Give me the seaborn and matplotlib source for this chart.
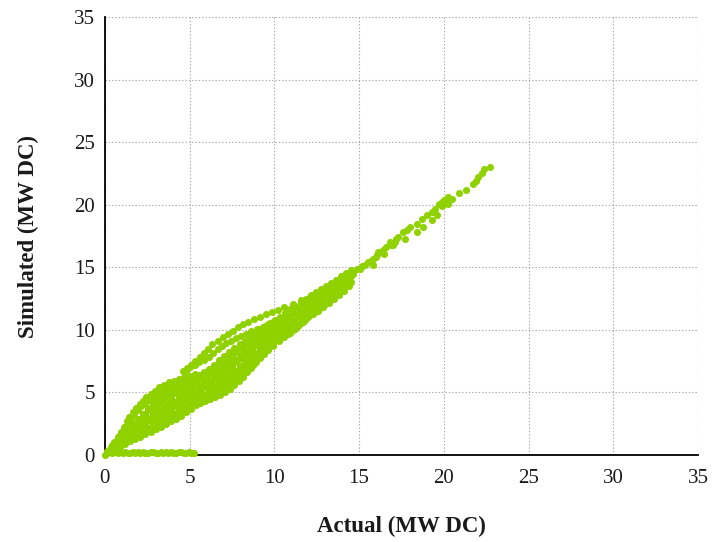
import matplotlib
matplotlib.use("Agg")
import matplotlib.pyplot as plt
import seaborn as sns
import pandas as pd

# ---------------- data ----------------
# core of the scatter band: two staggered x grids, strands across the band
core_xa = [0.3, 0.6, 0.9, 1.2, 1.5, 1.8, 2.1, 2.4,
           2.7, 3.0, 3.3, 3.6, 3.9, 4.2, 4.5, 4.8,
           5.1, 5.4, 5.7, 6.0, 6.3, 6.6, 6.9, 7.2,
           7.5, 7.8, 8.1, 8.4, 8.7, 9.0, 9.3, 9.6,
           9.9, 10.2, 10.5, 10.8, 11.1, 11.4, 11.7, 12.0,
           12.3, 12.6, 12.9, 13.2, 13.5, 13.8, 14.1, 14.4]
core_xb = [0.45, 0.75, 1.05, 1.35, 1.65, 1.95, 2.25, 2.55,
           2.85, 3.15, 3.45, 3.75, 4.05, 4.35, 4.65, 4.95,
           5.25, 5.55, 5.85, 6.15, 6.45, 6.75, 7.05, 7.35,
           7.65, 7.95, 8.25, 8.55, 8.85, 9.15, 9.45, 9.75,
           10.05, 10.35, 10.65, 10.95, 11.25, 11.55, 11.85, 12.15,
           12.45, 12.75, 13.05, 13.35, 13.65, 13.95, 14.25, 14.55]

core_y0 = [0.24, 0.47, 0.68, 0.89, 1.1, 1.28, 1.46, 1.64,
           1.84, 2.05, 2.26, 2.47, 2.68, 2.91, 3.15, 3.42,
           3.69, 3.96, 4.23, 4.5, 4.8, 5.12, 5.48, 5.84,
           6.2, 6.56, 6.92, 7.28, 7.64, 8.0, 8.3, 8.6,
           8.9, 9.16, 9.4, 9.7, 10.01, 10.34, 10.67, 11.0,
           11.27, 11.54, 11.81, 12.12, 12.45, 12.78, 13.12, 13.48]
core_y2 = [0.34, 0.66, 0.95, 1.26, 1.58, 1.86, 2.14, 2.44,
           2.72, 2.99, 3.24, 3.47, 3.7, 3.92, 4.15, 4.4,
           4.64, 4.89, 5.13, 5.38, 5.7, 6.04, 6.4, 6.74,
           7.08, 7.42, 7.75, 8.09, 8.42, 8.76, 9.04, 9.31,
           9.59, 9.86, 10.12, 10.42, 10.72, 11.03, 11.33, 11.64,
           11.9, 12.16, 12.41, 12.7, 13.01, 13.32, 13.62, 13.94]
core_y4 = [0.43, 0.85, 1.22, 1.63, 2.06, 2.43, 2.82, 3.24,
           3.6, 3.93, 4.21, 4.48, 4.71, 4.93, 5.15, 5.37,
           5.59, 5.82, 6.04, 6.26, 6.61, 6.96, 7.32, 7.65,
           7.96, 8.27, 8.58, 8.9, 9.21, 9.52, 9.77, 10.02,
           10.28, 10.55, 10.84, 11.14, 11.43, 11.72, 12.0, 12.28,
           12.53, 12.77, 13.02, 13.29, 13.57, 13.85, 14.13, 14.39]
core_y1 = [0.44, 0.71, 0.97, 1.23, 1.49, 1.72, 1.95, 2.19,
           2.43, 2.67, 2.9, 3.12, 3.34, 3.57, 3.8, 4.06,
           4.32, 4.57, 4.83, 5.09, 5.4, 5.73, 6.09, 6.44,
           6.79, 7.14, 7.49, 7.83, 8.18, 8.53, 8.82, 9.11,
           9.39, 9.66, 9.91, 10.21, 10.52, 10.83, 11.15, 11.47,
           11.73, 12.0, 12.26, 12.56, 12.88, 13.2, 13.52, 13.86]
core_y3 = [0.54, 0.9, 1.24, 1.6, 1.97, 2.29, 2.63, 2.99,
           3.31, 3.61, 3.87, 4.13, 4.35, 4.58, 4.8, 5.03,
           5.27, 5.5, 5.74, 5.97, 6.31, 6.65, 7.01, 7.35,
           7.67, 7.99, 8.32, 8.64, 8.97, 9.29, 9.55, 9.82,
           10.08, 10.35, 10.63, 10.93, 11.23, 11.52, 11.82, 12.11,
           12.36, 12.61, 12.87, 13.15, 13.44, 13.73, 14.03, 14.31]
core_y5 = [0.63, 1.09, 1.51, 1.97, 2.45, 2.87, 3.31, 3.79,
           4.19, 4.55, 4.85, 5.13, 5.37, 5.59, 5.8, 6.01,
           6.22, 6.43, 6.64, 6.85, 7.21, 7.57, 7.93, 8.25,
           8.55, 8.85, 9.15, 9.45, 9.75, 10.05, 10.29, 10.53,
           10.77, 11.05, 11.35, 11.65, 11.94, 12.21, 12.48, 12.75,
           12.99, 13.23, 13.47, 13.73, 14.0, 14.27, 14.53, 14.77]

# extra in-between strands where the band is widest
mid_x = [1.65, 1.95, 2.25, 2.55, 2.85, 3.15, 3.45, 3.75, 4.05, 4.35,
         4.65, 4.95, 5.25, 5.55, 5.85, 6.15, 6.45, 6.75, 7.05, 7.35,
         7.65, 7.95, 8.25, 8.55, 8.85, 9.15, 9.45, 9.75, 10.05]
mid_y05 = [1.37, 1.58, 1.78, 1.99, 2.21, 2.44, 2.66, 2.87, 3.09, 3.32,
           3.55, 3.82, 4.08, 4.34, 4.6, 4.87, 5.17, 5.5, 5.86, 6.21,
           6.57, 6.93, 7.28, 7.63, 7.98, 8.34, 8.64, 8.93, 9.22]
mid_y25 = [1.85, 2.15, 2.46, 2.79, 3.09, 3.38, 3.63, 3.88, 4.1, 4.33,
           4.55, 4.79, 5.03, 5.27, 5.51, 5.75, 6.08, 6.42, 6.78, 7.12,
           7.45, 7.78, 8.11, 8.44, 8.77, 9.1, 9.37, 9.64, 9.91]
mid_y45 = [2.33, 2.73, 3.14, 3.59, 3.97, 4.32, 4.61, 4.88, 5.12, 5.34,
           5.55, 5.77, 5.98, 6.2, 6.41, 6.63, 6.98, 7.34, 7.7, 8.02,
           8.33, 8.64, 8.94, 9.25, 9.55, 9.86, 10.11, 10.35, 10.6]

# outer loop above the band at low output
loop_outer_x = [0.15, 0.35, 0.55, 0.75, 0.95, 1.12, 1.28, 1.45, 1.65, 1.85, 2.05, 2.25,
                2.45, 2.7, 2.95, 3.2, 3.5, 3.8, 4.1, 4.4, 4.7, 5.0, 5.3]
loop_outer_y = [0.3, 0.65, 1.0, 1.4, 1.85, 2.25, 2.7, 3.05, 3.4, 3.75, 4.05, 4.35,
                4.6, 4.9, 5.15, 5.4, 5.6, 5.8, 5.95, 6.1, 6.2, 6.3, 6.45]
loop_inner_x = [0.25, 0.45, 0.65, 0.85, 1.03, 1.2, 1.37, 1.55, 1.75, 1.95, 2.15,
                2.35, 2.58, 2.82, 3.07, 3.35, 3.65, 3.95, 4.25, 4.55, 4.85, 5.15]
loop_inner_y = [0.4, 0.8, 1.15, 1.5, 1.85, 2.25, 2.62, 2.95, 3.3, 3.6, 3.9,
                4.15, 4.4, 4.67, 4.93, 5.15, 5.37, 5.55, 5.7, 5.8, 5.9, 6.05]

# upper dotted strands
upper_a_x = [4.6, 4.85, 5.1, 5.35, 5.6, 5.85, 6.1, 6.35, 6.65, 6.95, 7.25, 7.55,
             7.85, 8.15, 8.45, 8.8, 9.15, 9.5, 9.85, 10.2, 10.6, 11.1, 11.6, 12.1]
upper_a_y = [6.7, 6.95, 7.2, 7.5, 7.8, 8.15, 8.5, 8.85, 9.15, 9.4, 9.65, 9.9,
             10.2, 10.45, 10.65, 10.85, 11.05, 11.25, 11.45, 11.6, 11.85, 12.1, 12.4, 12.65]
upper_b_x = [4.8, 5.05, 5.3, 5.55, 5.85, 6.15, 6.4, 6.65, 6.9, 7.15, 7.45, 7.75,
             8.05, 8.35, 8.65, 9.0, 9.35, 9.65, 10.0]
upper_b_y = [6.75, 7.0, 7.2, 7.4, 7.6, 7.85, 8.15, 8.45, 8.7, 8.95, 9.15, 9.35,
             9.5, 9.7, 9.9, 10.05, 10.25, 10.45, 10.7]

# lower dotted strands
lower_c_x = [5.6, 5.9, 6.2, 6.5, 6.8, 7.1, 7.4, 7.65, 7.9, 8.15, 8.4, 8.6,
             8.8, 9.0, 9.2, 9.4, 9.6, 9.8, 10.0]
lower_c_y = [4.15, 4.3, 4.45, 4.6, 4.8, 5.05, 5.3, 5.6, 5.9, 6.25, 6.6, 6.95,
             7.3, 7.65, 8.0, 8.35, 8.7, 9.0, 9.3]
lower_d_x = [6.5, 6.8, 7.1, 7.4, 7.65, 7.9, 8.2, 8.46, 8.7, 8.9, 9.15, 9.4, 9.65,
             9.95, 10.3, 10.6, 10.9, 11.2, 11.5, 11.8, 12.1, 12.4, 12.7, 13.0,
             13.3, 13.6, 13.9]
lower_d_y = [5.05, 5.3, 5.55, 5.86, 6.1, 6.4, 6.65, 6.85, 7.1, 7.4, 7.75, 8.1, 8.4,
             8.75, 9.15, 9.45, 9.75, 10.1, 10.45, 10.8, 11.15, 11.45, 11.75, 12.05,
             12.4, 12.8, 13.15]

# high-output tail
tail_x = [14.65, 14.9, 15.05, 15.2, 15.35, 15.5, 15.75, 15.85, 15.8, 16.0, 16.05,
          16.1, 16.4, 16.5, 16.6, 16.8, 16.9, 17.0, 17.1, 17.2, 17.3, 17.6, 17.7,
          17.8, 18.0, 18.4, 18.4, 18.7, 18.8, 19.0, 19.3, 19.3, 19.5, 19.6, 19.7,
          19.9, 19.9, 20.0, 20.25, 20.25, 20.5, 20.9, 21.3, 21.7, 21.9, 22.0,
          22.25, 22.4, 22.7]
tail_y = [14.5, 14.9, 14.85, 15.1, 15.2, 15.4, 15.6, 15.2, 15.7, 15.85, 16.0,
          16.2, 16.4, 16.1, 16.6, 17.05, 16.8, 16.8, 17.0, 17.3, 17.4, 17.8, 17.3,
          18.0, 18.2, 18.5, 17.8, 18.9, 18.2, 19.2, 19.4, 18.8, 19.7, 19.2, 20.1,
          19.9, 20.25, 20.4, 20.6, 20.1, 20.5, 20.9, 21.2, 21.65, 21.9, 22.2,
          22.55, 22.85, 23.0]

# zero-output line (simulated ~0 while actual up to ~5)
flat_x = [0.0, 0.15, 0.3, 0.45, 0.6, 0.75, 0.9, 1.05, 1.2, 1.35, 1.5, 1.65,
          1.8, 1.95, 2.1, 2.25, 2.4, 2.55, 2.7, 2.85, 3.0, 3.15, 3.3, 3.45,
          3.6, 3.75, 3.9, 4.05, 4.2, 4.35, 4.5, 4.65, 4.8, 4.95, 5.1, 5.25]
flat_y = [0.0, 0.2, 0.22, 0.2, 0.21, 0.2, 0.22, 0.2, 0.21, 0.2, 0.2, 0.21,
          0.2, 0.22, 0.2, 0.21, 0.2, 0.2, 0.22, 0.21, 0.2, 0.2, 0.21, 0.2,
          0.22, 0.2, 0.21, 0.2, 0.2, 0.22, 0.21, 0.2, 0.2, 0.21, 0.2, 0.2]

ticks = [0, 5, 10, 15, 20, 25, 30, 35]
x_label = "Actual (MW DC)"
y_label = "Simulated (MW DC)"

# ---------------- assemble ----------------
pairs = [
    (core_xa, core_y0), (core_xb, core_y1), (core_xa, core_y2), (core_xb, core_y3),
    (core_xa, core_y4), (core_xb, core_y5),
    (mid_x, mid_y05), (mid_x, mid_y25), (mid_x, mid_y45),
    (loop_outer_x, loop_outer_y), (loop_inner_x, loop_inner_y),
    (upper_a_x, upper_a_y), (upper_b_x, upper_b_y),
    (lower_c_x, lower_c_y), (lower_d_x, lower_d_y),
    (tail_x, tail_y), (flat_x, flat_y),
]
xs, ys = [], []
for px, py in pairs:
    for a, b in zip(px, py):
        xs.append(a)
        ys.append(b)
df = pd.DataFrame({"actual": xs, "simulated": ys})

# ---------------- style ----------------
sns.set_style("white")
plt.rcParams["font.family"] = ["Liberation Serif", "DejaVu Serif"]

GREEN = "#8FD200"

fig = plt.figure(figsize=(7.13, 5.42), dpi=100)
ax = fig.add_axes([0.147, 0.1605, 0.832, 0.808])

sns.scatterplot(data=df, x="actual", y="simulated", color=GREEN, s=26,
                linewidth=0, ax=ax, clip_on=False, zorder=3)

ax.set_xlim(0, 35)
ax.set_ylim(0, 35)
ax.set_xticks(ticks)
ax.set_yticks(ticks)
ax.set_xticklabels([str(t) for t in ticks])
ax.set_yticklabels([str(t) for t in ticks])

ax.set_axisbelow(True)
ax.grid(True, color="#a8a8a8", linestyle=(0, (1.2, 1.8)), linewidth=0.8)

for side in ("top", "right"):
    ax.spines[side].set_visible(False)
for side in ("left", "bottom"):
    ax.spines[side].set_color("black")
    ax.spines[side].set_linewidth(1.3)

ax.tick_params(axis="both", direction="out", length=4, width=1, colors="black",
               labelsize=15, labelcolor="#1a1a1a")
ax.tick_params(axis="y", pad=3)
ax.tick_params(axis="x", pad=6)

ax.set_xlabel(x_label, fontsize=16.5, fontweight="bold", labelpad=20, color="#1a1a1a")
ax.set_ylabel(y_label, fontsize=16.5, fontweight="bold", labelpad=25, color="#1a1a1a")

fig.savefig("out.png", dpi=100)
